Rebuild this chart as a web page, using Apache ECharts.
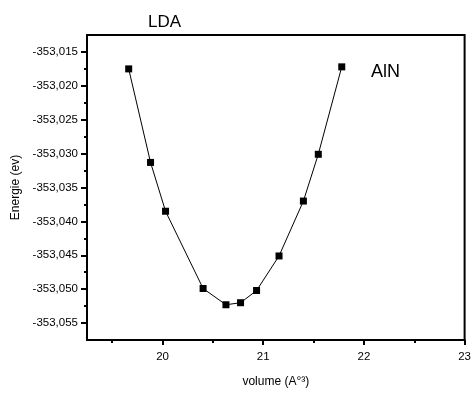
<!DOCTYPE html>
<html>
<head>
<meta charset="utf-8">
<script src="https://cdn.jsdelivr.net/npm/echarts@6/dist/echarts.min.js"></script>
<style>
  html, body { margin: 0; padding: 0; background: #fff; }
  #chart { width: 474px; height: 394px; }
</style>
</head>
<body>
<div id="chart"></div>
<script>
// volume (A°3) and total energy (eV)
const volume = [19.664, 19.881, 20.030, 20.403, 20.630, 20.775, 20.934, 21.157, 21.399, 21.547, 21.780];
const energie = [-353.0175, -353.0313, -353.0385, -353.0499, -353.0523, -353.0520, -353.0502, -353.0451, -353.0370, -353.0301, -353.0172];

// tick labels
const xMajor = [20, 21, 22, 23];
const xMinor = [19.5, 20.5, 21.5, 22.5];
const yMajor = [-353.055, -353.050, -353.045, -353.040, -353.035, -353.030, -353.025, -353.020, -353.015];
const yMinor = [-353.0525, -353.0475, -353.0425, -353.0375, -353.0325, -353.0275, -353.0225, -353.0175];

const xMin = 19.25, xMax = 23;
const yMin = -353.0575, yMax = -353.0125;

const font = 'Liberation Sans, Arial, sans-serif';

let chart = echarts.init(document.getElementById('chart'));

const option = {
  animation: false,
  backgroundColor: '#fff',
  textStyle: { fontFamily: font },
  title: [
    {
      text: 'LDA',
      left: 143, top: 9,
      textStyle: { fontSize: 17, fontWeight: 'normal', color: '#000', fontFamily: font }
    },
    {
      text: 'AlN',
      left: 366, top: 58,
      textStyle: { fontSize: 18, fontWeight: 'normal', color: '#000', fontFamily: font }
    }
  ],
  grid: {
    left: 87, top: 35, right: 6, bottom: 54,
    show: true,
    borderColor: '#000',
    borderWidth: 2
  },
  xAxis: [
    {
      type: 'value',
      min: xMin, max: xMax,
      name: 'volume (A°³)',
      nameLocation: 'middle',
      nameGap: 36,
      nameTextStyle: { fontSize: 12, color: '#000', fontFamily: font },
      axisLine: { show: true, lineStyle: { color: '#000', width: 2 } },
      axisTick: { show: true, inside: false, length: 5, customValues: xMajor, lineStyle: { color: '#000', width: 2 } },
      axisLabel: { customValues: xMajor, fontSize: 11.5, color: '#000', margin: 11, fontFamily: font },
      splitLine: { show: false }
    },
    {
      type: 'value',
      position: 'bottom',
      min: xMin, max: xMax,
      axisLine: { show: false },
      axisTick: { show: true, length: 3, customValues: xMinor, lineStyle: { color: '#000', width: 2 } },
      axisLabel: { show: false },
      splitLine: { show: false }
    }
  ],
  yAxis: [
    {
      type: 'value',
      min: yMin, max: yMax,
      name: 'Energie (ev)',
      nameLocation: 'middle',
      nameGap: 63,
      nameTextStyle: { fontSize: 12, color: '#000', fontFamily: font },
      axisLine: { show: true, lineStyle: { color: '#000', width: 2 } },
      axisTick: { show: true, length: 6, customValues: yMajor, lineStyle: { color: '#000', width: 2 } },
      axisLabel: {
        customValues: yMajor, fontSize: 11.5, color: '#000', margin: 9, fontFamily: font,
        formatter: v => v.toFixed(3).replace('.', ',')
      },
      splitLine: { show: false }
    },
    {
      type: 'value',
      position: 'left',
      min: yMin, max: yMax,
      axisLine: { show: false },
      axisTick: { show: true, length: 3, customValues: yMinor, lineStyle: { color: '#000', width: 2 } },
      axisLabel: { show: false },
      splitLine: { show: false }
    }
  ],
  series: [
    {
      type: 'line',
      data: volume.map((v, i) => [v, energie[i]]),
      symbol: 'rect',
      symbolSize: 7,
      showSymbol: true,
      itemStyle: { color: '#000' },
      lineStyle: { color: '#000', width: 1 }
    }
  ]
};

chart.setOption(option);
window.addEventListener('resize', chart.resize);
</script>
</body>
</html>
